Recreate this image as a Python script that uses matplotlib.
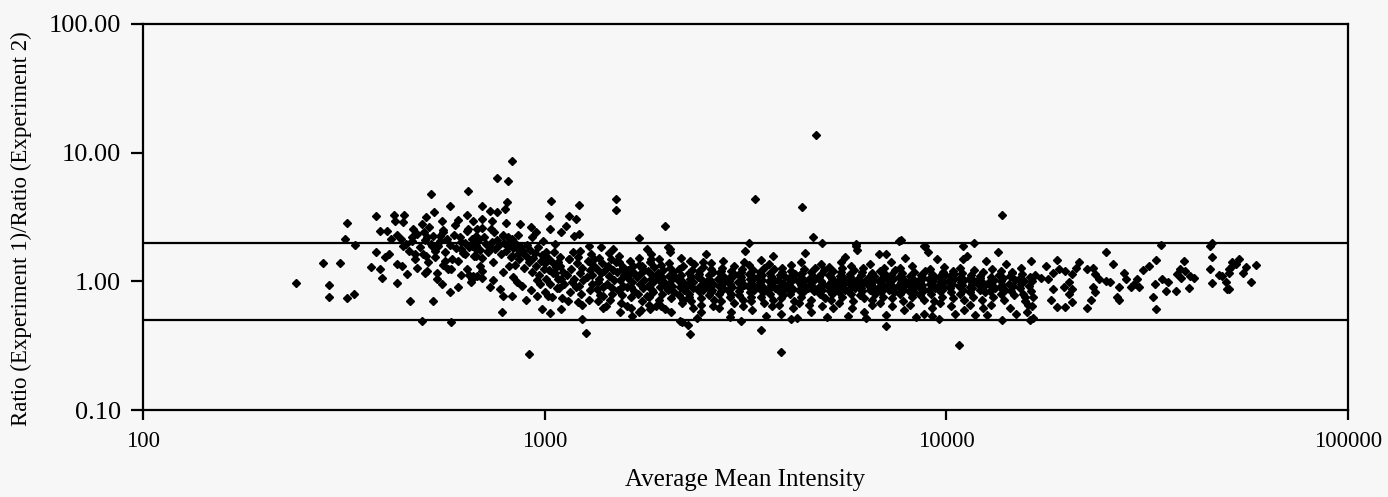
import matplotlib
matplotlib.use('Agg')
import matplotlib.pyplot as plt
from matplotlib.ticker import FixedLocator, FixedFormatter, NullLocator

plt.rcParams['font.family'] = ['Liberation Serif', 'DejaVu Serif']

left_pts = [
    (240, 0.97), (280, 1.38), (309, 1.38), (290, 0.93), (290, 0.75), (323, 0.74), (335, 0.79),
    (323, 2.83), (318, 2.15), (338, 1.91), (380, 3.2), (380, 1.68), (370, 1.29), (389, 1.24),
    (393, 1.07), (389, 2.45), (405, 2.45), (400, 1.54), (410, 1.62), (415, 2.12), (422, 3.3),
    (425, 2.93), (446, 3.3), (443, 2.88), (428, 2.28), (440, 2.12), (445, 1.87), (428, 1.36),
    (442, 1.31), (455, 1.13), (430, 0.97), (462, 0.70), (468, 2.2), (475, 1.62), (480, 1.28),
    (496, 2.78), (508, 3.14), (520, 4.75), (530, 3.44), (500, 2.41), (510, 2.2), (523, 1.87),
    (508, 1.56), (534, 1.71), (510, 1.2), (540, 1.17), (555, 0.95), (527, 0.70), (496, 0.49),
    (585, 0.48), (548, 2.24), (560, 2.41), (555, 2.93), (580, 3.84), (646, 5.0), (610, 2.98),
    (640, 3.3), (665, 2.93), (620, 1.77), (585, 1.24), (610, 0.91), (580, 0.82), (648, 1.11),
    (660, 1.04), (632, 1.62), (615, 2.2), (643, 2.54), (675, 2.24), (675, 1.77), (680, 1.09),
    (565, 1.43), (832, 8.6), (760, 6.35), (810, 6.0), (700, 3.84), (730, 3.5), (760, 3.44),
    (805, 4.1), (795, 3.63), (700, 3.04), (740, 2.93), (680, 2.54), (735, 2.54), (790, 2.28),
    (810, 2.2), (830, 2.12), (870, 2.78), (925, 2.63), (950, 2.41), (1040, 4.2), (1025, 3.2),
    (1030, 2.54), (1150, 3.2), (1220, 3.9), (1200, 3.04), (1130, 2.68), (1100, 2.41), (1185, 2.24),
    (1510, 4.35), (1510, 3.58), (1990, 2.68), (1720, 2.16), (660, 1.87), (675, 1.56), (725, 1.71),
    (690, 1.31), (665, 1.09), (700, 1.07), (730, 0.91), (773, 0.87), (790, 0.77), (785, 0.58),
    (815, 1.31), (830, 1.56), (860, 1.77), (880, 1.68), (855, 0.98), (830, 0.77), (900, 0.72),
    (915, 0.27), (960, 0.77), (975, 0.95), (995, 1.43), (1010, 1.68), (1020, 0.77), (985, 0.61),
    (1030, 0.57), (1100, 0.61), (1060, 1.17), (1090, 1.31), (1150, 1.48), (1200, 0.91), (1210, 0.69),
    (1240, 0.51), (1265, 0.40), (1290, 1.87), (1330, 1.48), (1350, 0.87), (1360, 0.70), (1420, 0.64),
    (1400, 0.77), (1480, 1.77), (1510, 1.41), (1570, 1.28), (1537, 0.87), (1537, 0.58), (1600, 0.64),
    (1650, 0.54), (1640, 0.91), (1750, 1.31), (1800, 1.77), (1840, 1.48), (1890, 1.09), (1960, 1.0),
    (1800, 0.77), (1890, 0.64), (1830, 0.61), (2000, 0.61), (1720, 0.58), (2030, 1.84), (2050, 1.68),
    (1220, 2.32), (2170, 0.49), (2280, 0.46), (2050, 1.77), (2300, 0.39), (2200, 0.48),
]

# the busier cluster between about 450 and 1100
left_fill = [
    (452, 1.95), (460, 1.72), (468, 2.05), (475, 1.48), (482, 2.35), (490, 1.85), (497, 1.62),
    (505, 2.10), (512, 1.40), (520, 1.95), (528, 2.25), (535, 1.55), (542, 1.88), (550, 2.05),
    (558, 1.35), (565, 1.70), (572, 2.15), (580, 1.92), (588, 1.50), (596, 2.30), (603, 1.80),
    (610, 1.45), (618, 2.02), (626, 1.65), (634, 1.98), (642, 1.25), (650, 1.85), (658, 2.12),
    (666, 1.58), (674, 1.92), (682, 2.08), (690, 1.75), (698, 1.52), (706, 2.20), (714, 1.95),
    (722, 1.68), (730, 1.85), (738, 2.02), (746, 1.42), (754, 1.78), (762, 2.10), (770, 1.90),
    (778, 1.62), (786, 2.25), (794, 1.98), (802, 1.72), (810, 1.88), (818, 2.05), (826, 1.55),
    (834, 1.80), (842, 1.35), (850, 1.95), (858, 1.62), (866, 1.48), (874, 1.85), (882, 1.72),
    (890, 1.28), (898, 1.58), (906, 1.92), (914, 1.40), (922, 1.75), (930, 1.18), (938, 1.52),
    (946, 1.65), (954, 1.32), (962, 1.85), (970, 1.12), (978, 1.45), (986, 1.60), (994, 1.25),
    (1002, 1.38), (1010, 1.05), (1018, 1.52), (1026, 1.22), (1034, 0.95), (1042, 1.42), (1050, 1.15),
    (1058, 1.68), (1066, 1.30), (1074, 0.88), (505, 1.15), (540, 1.05), (575, 1.25), (620, 1.12),
    (655, 0.98), (700, 1.20), (745, 1.02), (790, 1.18), (835, 1.08), (880, 0.92), (925, 0.85),
    (960, 1.02), (1000, 0.82), (1045, 0.75), (1080, 1.05), (470, 2.55), (515, 2.65), (560, 2.50),
    (600, 2.75), (640, 2.45), (700, 2.60), (750, 2.40), (800, 2.85), (860, 2.30), (930, 2.20),
    (990, 2.05), (1060, 1.95),
]

# dense band, one row per little stretch of intensity
band_x = [
    [1075, 1088, 1093, 1100, 1106, 1112, 1119, 1083],
    [1138, 1150, 1156, 1162, 1168, 1175, 1182, 1145],
    [1206, 1215, 1222, 1228, 1235, 1242, 1250, 1212, 1238],
    [1278, 1286, 1295, 1300, 1308, 1315, 1322, 1290, 1312],
    [1352, 1362, 1370, 1376, 1384, 1390, 1398, 1405, 1366, 1395],
    [1432, 1440, 1450, 1458, 1465, 1472, 1480, 1488, 1445, 1476],
    [1518, 1526, 1535, 1542, 1550, 1558, 1566, 1575, 1530, 1560, 1572],
    [1608, 1618, 1626, 1635, 1642, 1650, 1658, 1668, 1622, 1645, 1662],
    [1702, 1712, 1720, 1728, 1736, 1744, 1752, 1762, 1770, 1716, 1740, 1758],
    [1805, 1814, 1822, 1830, 1840, 1848, 1856, 1866, 1874, 1818, 1844, 1862],
    [1912, 1922, 1930, 1940, 1948, 1956, 1965, 1975, 1984, 1926, 1952, 1970],
    [2025, 2036, 2045, 2055, 2064, 2072, 2082, 2092, 2102, 2040, 2068, 2088],
    [2145, 2156, 2166, 2176, 2186, 2196, 2206, 2216, 2228, 2160, 2190, 2212],
    [2272, 2284, 2294, 2305, 2315, 2325, 2336, 2346, 2358, 2288, 2320, 2342, 2300],
    [2408, 2420, 2430, 2442, 2452, 2464, 2474, 2486, 2498, 2425, 2458, 2480, 2446],
    [2550, 2562, 2574, 2586, 2598, 2610, 2622, 2634, 2646, 2568, 2604, 2628, 2590],
    [2700, 2712, 2726, 2738, 2750, 2764, 2776, 2790, 2802, 2720, 2756, 2784, 2744],
    [2860, 2874, 2888, 2900, 2914, 2928, 2942, 2956, 2970, 2880, 2918, 2948, 2905],
    [3030, 3044, 3058, 3072, 3086, 3100, 3116, 3130, 3146, 3050, 3092, 3124, 3080],
    [3210, 3226, 3240, 3256, 3270, 3286, 3300, 3316, 3332, 3234, 3278, 3310, 3262],
    [3400, 3416, 3432, 3448, 3464, 3480, 3496, 3512, 3528, 3424, 3470, 3506, 3456],
    [3600, 3618, 3634, 3652, 3668, 3686, 3702, 3720, 3738, 3626, 3676, 3712, 3660],
    [3815, 3832, 3850, 3868, 3886, 3904, 3922, 3940, 3958, 3840, 3892, 3930, 3876],
    [4040, 4058, 4078, 4096, 4116, 4134, 4154, 4172, 4192, 4068, 4120, 4164, 4106],
    [4280, 4300, 4320, 4340, 4360, 4380, 4400, 4420, 4440, 4310, 4366, 4410, 4350],
    [4535, 4555, 4576, 4598, 4618, 4640, 4660, 4682, 4702, 4566, 4625, 4672, 4608],
    [4800, 4822, 4844, 4866, 4890, 4912, 4934, 4956, 4980, 4834, 4898, 4946, 4878],
    [5085, 5108, 5132, 5155, 5180, 5204, 5228, 5252, 5276, 5120, 5190, 5240, 5168],
    [5385, 5410, 5436, 5460, 5486, 5510, 5536, 5562, 5588, 5424, 5498, 5550, 5472],
    [5705, 5732, 5758, 5786, 5812, 5840, 5866, 5894, 5920, 5746, 5826, 5880, 5800],
    [6044, 6072, 6100, 6128, 6158, 6186, 6214, 6244, 6272, 6086, 6170, 6230, 6142],
    [6400, 6430, 6460, 6490, 6520, 6550, 6580, 6612, 6642, 6444, 6534, 6596, 6505],
    [6780, 6812, 6844, 6876, 6908, 6940, 6972, 7004, 7036, 6828, 6922, 6988, 6892],
    [7180, 7214, 7248, 7282, 7316, 7350, 7384, 7418, 7452, 7232, 7332, 7400, 7300],
    [7608, 7644, 7680, 7716, 7752, 7788, 7824, 7860, 7896, 7662, 7770, 7842, 7734],
    [8060, 8098, 8136, 8174, 8212, 8250, 8288, 8326, 8364, 8116, 8230, 8306],
    [8538, 8578, 8618, 8658, 8698, 8738, 8778, 8818, 8858, 8598, 8718, 8798],
    [9044, 9086, 9128, 9170, 9212, 9254, 9296, 9338, 9380, 9106, 9232, 9318],
    [9578, 9622, 9666, 9710, 9754, 9798, 9842, 9886, 9930, 9644, 9776, 9864],
    [10150, 10196, 10242, 10288, 10334, 10380, 10426, 10472, 10218, 10310, 10450],
    [10750, 10800, 10850, 10900, 10950, 11000, 11050, 11100, 10825, 10925, 11075],
    [11390, 11440, 11495, 11550, 11600, 11655, 11710, 11760, 11470, 11630],
    [12060, 12120, 12175, 12230, 12290, 12345, 12400, 12460, 12150, 12370],
    [12780, 12840, 12900, 12960, 13020, 13080, 13140, 13200, 12930],
    [13540, 13600, 13660, 13730, 13790, 13850, 13920, 13980, 13700],
    [14340, 14420, 14500, 14580, 14660, 14740, 14820, 14460],
    [15200, 15290, 15380, 15470, 15560, 15650, 15740, 15330],
    [16100, 16200, 16300, 16400, 16500, 16600, 16350],
]
band_y = [
    [1.32, 0.88, 1.55, 1.05, 0.74, 1.18, 0.96, 1.42],
    [1.12, 1.48, 0.82, 1.25, 0.98, 1.68, 1.05, 0.70],
    [1.38, 0.92, 1.15, 1.72, 0.80, 1.28, 1.02, 1.55, 0.66],
    [1.08, 1.45, 0.85, 1.22, 1.62, 0.95, 1.35, 0.72, 1.12],
    [1.25, 0.98, 1.52, 0.78, 1.15, 1.38, 0.90, 1.20, 1.05, 0.62],
    [0.95, 1.32, 1.10, 0.72, 1.48, 0.88, 1.22, 1.02, 1.65, 0.80],
    [1.18, 0.85, 1.40, 1.02, 0.68, 1.25, 0.92, 1.12, 1.58, 0.78, 1.30],
    [0.90, 1.22, 1.05, 1.45, 0.75, 0.98, 1.32, 0.84, 1.12, 0.62, 1.18],
    [1.08, 0.80, 1.35, 0.95, 1.15, 0.70, 1.28, 0.88, 1.02, 1.52, 0.60, 1.20],
    [0.92, 1.20, 0.76, 1.42, 1.05, 0.86, 1.12, 0.98, 1.30, 0.66, 1.62, 0.82],
    [1.15, 0.72, 1.02, 0.90, 1.35, 0.80, 1.08, 1.22, 0.94, 1.48, 0.64, 1.00],
    [0.86, 1.10, 0.96, 1.28, 0.74, 1.04, 0.92, 1.18, 0.82, 1.38, 0.58, 1.12],
    [1.02, 0.78, 1.24, 0.90, 1.12, 0.68, 0.98, 1.32, 0.86, 1.06, 1.52, 0.72],
    [0.94, 1.16, 0.80, 1.05, 0.70, 1.22, 0.88, 0.99, 1.36, 0.76, 1.10, 0.62, 1.45],
    [1.08, 0.84, 1.20, 0.92, 0.74, 1.02, 1.30, 0.86, 0.96, 1.14, 0.66, 1.42, 0.58],
    [0.90, 1.12, 0.78, 1.00, 1.25, 0.86, 0.95, 1.18, 0.72, 1.05, 1.38, 0.64, 0.82],
    [1.04, 0.80, 0.92, 1.15, 0.70, 1.28, 0.88, 0.98, 1.08, 0.62, 0.84, 1.45, 1.20],
    [0.86, 1.06, 0.96, 0.76, 1.20, 0.90, 1.10, 0.68, 1.32, 1.00, 0.80, 1.16, 0.58],
    [0.98, 0.78, 1.12, 0.88, 1.02, 1.24, 0.72, 0.94, 1.40, 0.84, 1.08, 0.64, 1.18],
    [0.92, 1.14, 0.82, 1.04, 0.70, 0.96, 1.22, 0.86, 1.06, 1.34, 0.60, 0.90, 0.76],
    [1.08, 0.88, 0.98, 1.18, 0.76, 1.02, 0.90, 1.28, 0.68, 0.94, 1.12, 0.82, 1.46],
    [0.86, 1.00, 1.16, 0.80, 0.94, 1.06, 0.72, 1.24, 0.88, 1.36, 0.64, 0.98, 1.10],
    [1.02, 0.84, 0.92, 1.12, 0.74, 1.26, 0.96, 0.86, 1.08, 0.66, 1.18, 0.78, 0.56],
    [0.90, 1.06, 0.80, 0.98, 1.20, 0.88, 1.04, 0.70, 1.14, 0.94, 1.34, 0.62, 0.84],
    [1.00, 0.86, 1.12, 0.76, 0.94, 1.06, 0.82, 1.24, 0.92, 0.68, 1.16, 0.98, 1.40],
    [0.88, 1.04, 0.94, 1.18, 0.72, 0.98, 1.10, 0.84, 1.28, 0.66, 0.92, 1.02, 0.58],
    [1.06, 0.90, 0.80, 1.00, 1.14, 0.86, 0.96, 1.22, 0.74, 1.08, 0.64, 0.94, 1.36],
    [0.92, 1.12, 0.84, 0.98, 0.72, 1.04, 1.20, 0.88, 0.96, 1.30, 0.80, 0.62, 1.08],
    [1.00, 0.82, 1.10, 0.90, 1.18, 0.76, 0.94, 1.06, 0.86, 0.68, 1.26, 0.98, 1.42],
    [0.86, 0.98, 1.14, 0.80, 0.92, 1.04, 0.70, 1.22, 0.88, 1.08, 0.62, 0.96, 1.32],
    [1.04, 0.90, 0.78, 1.12, 0.96, 0.84, 1.28, 0.74, 1.00, 0.92, 1.18, 0.58, 0.88],
    [0.94, 1.08, 0.86, 0.98, 0.72, 1.16, 0.90, 1.02, 0.80, 1.36, 0.66, 1.10, 0.96],
    [0.88, 1.00, 1.20, 0.82, 0.94, 1.06, 0.76, 0.92, 1.14, 0.68, 1.02, 1.28, 0.84],
    [1.02, 0.86, 0.96, 1.12, 0.74, 0.90, 1.04, 0.82, 1.22, 0.98, 0.64, 0.88, 1.40],
    [0.92, 1.08, 0.80, 0.98, 1.16, 0.86, 0.70, 1.02, 0.94, 1.26, 0.84, 0.60, 1.10],
    [0.98, 0.84, 1.10, 0.92, 0.76, 1.04, 0.88, 1.18, 0.96, 0.66, 1.32, 0.82],
    [0.90, 1.02, 0.78, 1.12, 0.94, 0.84, 1.06, 0.72, 1.20, 0.98, 0.88, 0.56],
    [1.04, 0.86, 0.96, 0.80, 1.14, 0.92, 1.00, 0.70, 0.88, 1.24, 0.62, 1.08],
    [0.94, 1.08, 0.84, 1.00, 0.76, 1.18, 0.90, 0.98, 1.12, 0.68, 0.86, 1.30],
    [1.00, 0.88, 1.10, 0.82, 0.96, 1.20, 0.74, 1.04, 0.92, 0.64, 1.14],
    [0.92, 1.06, 0.80, 0.98, 1.16, 0.86, 1.02, 0.72, 1.28, 0.94, 0.60],
    [1.04, 0.90, 0.82, 1.12, 0.96, 0.76, 1.00, 1.22, 0.66, 0.88],
    [0.94, 1.10, 0.86, 1.00, 0.72, 1.18, 0.92, 0.82, 1.06, 0.62],
    [0.98, 0.84, 1.08, 0.92, 1.24, 0.76, 1.02, 0.88, 0.66],
    [1.12, 0.90, 0.80, 1.00, 0.94, 1.06, 0.72, 0.86, 1.20],
    [0.96, 1.10, 0.84, 1.18, 0.92, 0.78, 1.02, 0.62],
    [1.04, 0.88, 0.96, 1.14, 0.80, 1.00, 0.70, 1.26],
    [0.92, 1.08, 0.84, 1.00, 0.76, 1.12, 0.64],
]

# stray points just inside the two guide lines across the band
band_edge = [
    (1380, 1.85), (2520, 1.62), (3150, 1.72), (3700, 1.58), (4450, 1.66), (5600, 1.55),
    (6800, 1.62), (7900, 1.52), (9000, 1.70), (9500, 1.48), (11300, 1.58), (12600, 1.45),
    (2400, 0.52), (2900, 0.53), (3550, 0.54), (4250, 0.52), (5050, 0.53), (5700, 0.54),
    (6300, 0.52), (7100, 0.55), (8400, 0.53), (9200, 0.54), (10500, 0.56), (11800, 0.55),
    (14900, 0.56), (15900, 0.58), (16500, 0.52),
    (4730, 13.7), (3350, 4.35), (4380, 3.76), (3230, 1.98), (4670, 2.2), (4900, 2.0),
    (5960, 1.94), (3460, 0.42), (3890, 0.28), (3090, 0.49), (4120, 0.51), (13800, 3.26),
    (5960, 1.87), (7640, 2.05), (8860, 1.87), (11000, 1.87), (11740, 2.0), (11000, 1.48),
    (13500, 1.68), (7100, 1.62), (7100, 0.45), (10770, 0.32), (13800, 0.50), (16200, 0.50),
    (9600, 0.51), (12650, 0.55), (16300, 1.43), (14100, 1.36), (14600, 1.17), (16000, 0.66),
    (15700, 0.76), (6000, 1.74), (7700, 2.08), (8800, 1.87),
]

# high intensity tail
right_pts = [
    (25000, 1.68), (18900, 1.46), (17700, 1.31), (26000, 1.36), (34200, 1.9), (33400, 1.46),
    (32000, 1.31), (30900, 1.22), (27700, 1.15), (29900, 1.04), (28800, 0.91), (26900, 0.91),
    (30200, 0.91), (26600, 0.76), (26900, 0.72), (33200, 0.95), (32800, 0.75), (33400, 0.61),
    (34500, 1.04), (35600, 0.98), (35300, 0.84), (37300, 0.84), (37500, 1.13), (38500, 1.07),
    (38300, 1.24), (39400, 1.2), (39000, 1.43), (40500, 1.09), (41500, 1.07), (40300, 0.88),
    (46000, 2.0), (45500, 1.87), (46000, 1.54), (45500, 1.24), (46000, 0.97), (47800, 1.11),
    (48600, 1.09), (49800, 0.98), (50700, 0.87), (50700, 1.24), (51600, 1.31), (52700, 1.36),
    (57400, 0.98), (59000, 1.33), (55800, 1.29), (53560, 1.48), (51600, 1.4), (50700, 1.17),
    (50000, 0.87), (54900, 1.15), (19100, 1.24), (19800, 1.2), (20600, 1.13), (21400, 1.4),
    (21000, 1.28), (22400, 1.24), (23200, 1.28), (23500, 1.13), (24000, 1.04), (25000, 1.0),
    (25600, 0.98), (20200, 0.98), (19600, 0.91), (20600, 0.87), (20200, 0.79), (23200, 0.91),
    (23500, 0.82), (23000, 0.72), (18200, 0.72), (18900, 0.63), (19800, 0.63), (20600, 0.69),
    (22400, 0.62), (17200, 1.07), (17900, 1.04), (18400, 0.87), (18500, 1.17), (28100, 1.04),
    (29300, 0.95),
]

guide_lines = [2.0, 0.5]
y_ticks = [0.1, 1, 10, 100]
x_ticks = [100, 1000, 10000, 100000]

xs, ys = [], []
for pts in (left_pts, left_fill, band_edge, right_pts):
    for x, y in pts:
        xs.append(x)
        ys.append(y)
for row_x, row_y in zip(band_x, band_y):
    xs.extend(row_x)
    ys.extend(row_y)

bg = '#f7f7f7'
fig = plt.figure(figsize=(13.88, 4.97), dpi=100, facecolor=bg)
ax = fig.add_axes([0.103, 0.175, 0.868, 0.777], facecolor=bg)

ax.set_xscale('log')
ax.set_yscale('log')
ax.set_xlim(100, 100000)
ax.set_ylim(0.1, 100)

for g in guide_lines:
    ax.axhline(g, color='black', lw=1.6, zorder=2)

ax.plot(xs, ys, linestyle='none', marker='D', markersize=4.3,
        color='black', zorder=3)

ax.yaxis.set_major_locator(FixedLocator(y_ticks))
ax.yaxis.set_major_formatter(FixedFormatter(['%.2f' % v for v in y_ticks]))
ax.xaxis.set_major_locator(FixedLocator(x_ticks))
ax.xaxis.set_major_formatter(FixedFormatter([str(v) for v in x_ticks]))
ax.xaxis.set_minor_locator(NullLocator())
ax.yaxis.set_minor_locator(NullLocator())

ax.tick_params(axis='y', direction='out', length=9, width=1.6, pad=7, labelsize=19)
ax.tick_params(axis='x', direction='out', length=7, width=1.6, pad=8, labelsize=16.5)
for s in ax.spines.values():
    s.set_linewidth(1.6)

ax.set_xlabel('Average Mean Intensity', fontsize=18, labelpad=12)
ax.set_ylabel('Ratio (Experiment 1)/Ratio (Experiment 2)', fontsize=16.5)
ax.yaxis.set_label_coords(-0.092, 0.47)

fig.savefig('out.png', dpi=100, facecolor=bg)
